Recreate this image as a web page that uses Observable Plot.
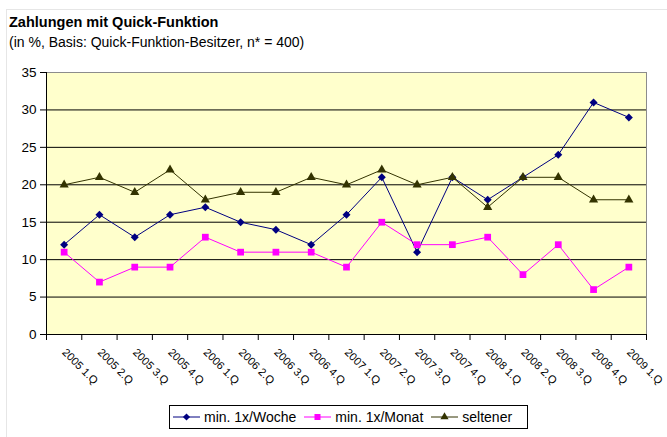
<!DOCTYPE html>
<html><head><meta charset="utf-8">
<script src="https://cdn.jsdelivr.net/npm/d3@7"></script>
<script src="https://cdn.jsdelivr.net/npm/@observablehq/plot@0.6"></script>
<style>
body{margin:0;background:#fff;font-family:Arial,"Liberation Sans",sans-serif;color:#000;}
#wrap{position:relative;width:667px;height:437px;overflow:hidden;}
#frame{position:absolute;left:6px;top:9px;width:700px;height:500px;border-top:1px solid #e6e6e6;border-left:1px solid #e6e6e6;}
#title{position:relative;margin:0;padding:14px 0 0 9px;font-weight:bold;font-size:14.5px;line-height:16px;}
#sub{position:relative;margin:4px 0 0 9px;font-size:14px;line-height:16px;}
#chart{position:relative;}
#legend{position:absolute;left:169px;top:405px;width:359px;height:24px;border:1px solid #000;display:flex;align-items:center;font-size:14px;background:#fff;box-sizing:border-box;padding-left:2px;}
#legend .item{display:flex;align-items:center;margin-right:7px;}
#legend svg{margin-right:4px;}
</style></head>
<body>
<div id="wrap">
<div id="frame"></div>
<div id="title">Zahlungen mit Quick-Funktion</div>
<div id="sub">(in %, Basis: Quick-Funktion-Besitzer, n* = 400)</div>
<div id="chart"></div>
<div id="legend"></div>
</div>
<script>
const quarters = ["2005 1.Q","2005 2.Q","2005 3.Q","2005 4.Q","2006 1.Q","2006 2.Q","2006 3.Q","2006 4.Q","2007 1.Q","2007 2.Q","2007 3.Q","2007 4.Q","2008 1.Q","2008 2.Q","2008 3.Q","2008 4.Q","2009 1.Q"];
const woche    = [12,16,13,16,17,15,14,12,16,21,11,21,18,21,24,31,29];
const monat    = [11, 7, 9, 9,13,11,11,11, 9,15,12,12,13, 8,12, 6, 9];
const seltener = [20,21,19,22,18,19,19,21,20,22,20,21,17,21,21,18,18];
const seriesNames = ["min. 1x/Woche","min. 1x/Monat","seltener"];
const yTicks = [0,5,10,15,20,25,30,35];

const series = [
  {name: seriesNames[0], values: woche, color: "#000080", symbol: "diamond2", r: 3.6, d3sym: d3.symbolDiamond2},
  {name: seriesNames[1], values: monat, color: "#FF00FF", symbol: "square", r: 3.8, d3sym: d3.symbolSquare},
  {name: seriesNames[2], values: seltener, color: "#333300", symbol: "triangle", r: 3.4, d3sym: d3.symbolTriangle}
];
const idx = quarters.map((q, i) => ({q, i: i + 0.5}));
const bounds = d3.range(0, quarters.length + 1);

const marks = [
  Plot.frame({fill: "#FFFFCC", stroke: null}),
  Plot.ruleY(yTicks.filter(t => t > 0 && t < 35), {stroke: "#000", strokeWidth: 1}),
  Plot.ruleY([35], {stroke: "#8c8c8c"}),
  Plot.ruleX([quarters.length], {stroke: "#8c8c8c"}),
  Plot.axisY({ticks: yTicks, tickSize: 6, tickPadding: 4, fontSize: 13.5, label: null}),
  Plot.axisX({ticks: bounds, tickSize: 6, tickFormat: () => "", label: null}),
  Plot.ruleY([0], {stroke: "#000"}),
  Plot.ruleX([0], {stroke: "#000"}),
  Plot.text(idx, {x: "i", text: "q", frameAnchor: "bottom", rotate: 45, textAnchor: "start", lineAnchor: "top", dy: 13, dx: 3, fontSize: 11, fill: "#000"})
];
for (const s of series) {
  const data = s.values.map((v, i) => ({i: i + 0.5, v}));
  marks.push(Plot.line(data, {x: "i", y: "v", stroke: s.color, strokeWidth: 1}));
}
for (const s of series) {
  const data = s.values.map((v, i) => ({i: i + 0.5, v}));
  marks.push(Plot.dot(data, {x: "i", y: "v", symbol: s.symbol, r: s.r, fill: s.color, stroke: null}));
}

const chart = Plot.plot({
  width: 667, height: 350,
  marginLeft: 46, marginRight: 21, marginTop: 22, marginBottom: 66,
  x: {type: "linear", domain: [0, quarters.length], label: null},
  y: {type: "linear", domain: [0, 35], label: null},
  style: {fontFamily: "Arial, 'Liberation Sans', sans-serif", fontSize: "12px", background: "transparent", overflow: "visible", color: "#000"},
  marks
});
document.getElementById("chart").appendChild(chart);

const legend = d3.select("#legend");
for (const s of series) {
  const it = legend.append("div").attr("class", "item");
  const svg = it.append("svg").attr("width", 28).attr("height", 12);
  svg.append("line").attr("x1", 1).attr("x2", 28).attr("y1", 6).attr("y2", 6).attr("stroke", s.color);
  svg.append("path").attr("transform", "translate(14.5,6)").attr("d", d3.symbol(s.d3sym, Math.PI * s.r * s.r * 0.8)()).attr("fill", s.color);
  it.append("span").text(s.name);
}
</script>
</body></html>
